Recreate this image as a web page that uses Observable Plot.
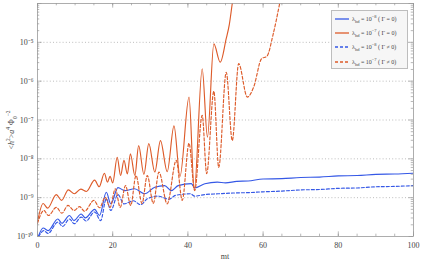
<!DOCTYPE html>
<html><head><meta charset="utf-8">
<script src="https://cdn.jsdelivr.net/npm/d3@7"></script>
<script src="https://cdn.jsdelivr.net/npm/@observablehq/plot@0.6"></script>
<style>
body{margin:0;background:#fff;}
#wrap{position:relative;width:421px;height:263px;overflow:hidden;}
#legend{position:absolute;left:331px;top:10px;width:77px;height:59px;background:#f6f6f6;border:1px solid #bdbdbd;box-sizing:border-box;font-family:"Liberation Serif",serif;font-size:6px;color:#444;}
.row{position:absolute;left:3px;height:10px;display:flex;align-items:center;white-space:nowrap;}
.row svg{margin-right:3px;}
sub,sup{font-size:4.5px;line-height:0;}
.lab{position:absolute;font-family:"Liberation Serif",serif;font-size:8px;color:#444;white-space:nowrap;line-height:1;}
#ylab{left:12px;top:130px;transform:translate(-50%,-50%) rotate(-90deg);}
#xlab{left:225px;top:257px;transform:translate(-50%,-50%);}
.lab sup,.lab sub{font-size:5.5px;}
</style></head>
<body><div id="wrap"><div id="chart"></div><div id="legend"></div>
<div class="lab" id="ylab">&lt;<i>h</i><sup>2</sup>&gt;<i>a</i><sup>4</sup> Φ<sub>0</sub><sup>−2</sup></div>
<div class="lab" id="xlab">mt</div></div>
<script>
// ---- data (t = mt, e = log10 of <h^2> a^4 Phi0^-2) ----
const orangeSolidT = [0,1.5,2.7,5.0,6.4,8.2,9.8,11.5,13.0,15.2,16.4,17.8,18.6,19.3,20.0,21.2,22.1,23.0,23.9,24.7,25.9,26.9,28.3,29.6,31.2,32.7,34.5,36.3,37.9,40.3,41.7,43.8,45.2,46.9,48.6,50.2,51.0,51.8,52.4];
const orangeSolidE = [-9.62,-9.15,-9.27,-8.92,-9.07,-8.80,-8.90,-8.78,-8.84,-8.55,-8.72,-8.37,-8.60,-8.45,-8.62,-7.96,-8.43,-8.04,-8.39,-7.87,-8.43,-7.66,-8.40,-7.61,-8.34,-7.53,-8.33,-7.15,-8.45,-6.41,-8.80,-5.68,-7.44,-5.04,-5.51,-4.90,-4.55,-4.00,-3.60];

const orangeDashT = [0,1.7,2.9,5.0,6.5,8.1,9.7,11.2,12.5,15.0,16.5,18.0,19.3,20.7,22.0,23.4,24.8,26.2,27.8,29.2,30.8,32.3,34.5,36.9,38.5,40.3,41.8,43.8,45.0,46.9,48.2,50.2,51.8,53.5,55.8,57.5,59.6,61.0,62.7,64.4,65.0];
const orangeDashE = [-9.66,-9.33,-9.46,-9.25,-9.40,-9.20,-9.33,-9.23,-9.35,-9.07,-9.26,-8.99,-9.25,-8.77,-9.25,-8.69,-9.20,-8.43,-9.15,-8.43,-9.15,-8.34,-9.16,-8.04,-9.07,-7.60,-8.82,-6.88,-8.38,-6.26,-8.22,-5.77,-7.53,-5.55,-6.41,-6.15,-5.42,-5.36,-4.78,-4.00,-3.70];

const blueSolidT = [0.2,1.5,2.8,5.4,6.5,8.5,9.7,11.6,12.7,15.2,16.5,18.3,19.5,21.4,23.2,25.8,28.5,31.2,33.8,35.6,37.4,40.9,41.8,44.5,47.8,50,53,56,60,65,70,75,80,85,90,95,100];
const blueSolidE = [-10.0,-9.78,-9.85,-9.55,-9.66,-9.46,-9.59,-9.42,-9.52,-9.30,-9.46,-8.86,-9.16,-8.74,-8.82,-8.77,-8.90,-8.73,-8.69,-8.82,-8.69,-8.64,-8.75,-8.64,-8.60,-8.62,-8.58,-8.57,-8.52,-8.51,-8.48,-8.47,-8.44,-8.43,-8.40,-8.39,-8.37];

const blueDashT = [0.3,1.7,2.8,5.4,6.7,8.5,9.8,11.6,12.9,15.2,16.8,18.3,19.5,21.4,23.0,25.5,27.4,29.2,32.0,35.0,36.7,40.7,41.8,44.5,48,52,56,60,65,70,75,80,85,90,95,100];
const blueDashE = [-10.0,-9.85,-9.92,-9.63,-9.74,-9.55,-9.67,-9.50,-9.60,-9.37,-9.59,-9.03,-9.33,-8.92,-9.16,-9.08,-9.18,-9.03,-8.96,-9.04,-8.94,-8.90,-8.96,-8.92,-8.90,-8.88,-8.87,-8.85,-8.83,-8.80,-8.79,-8.76,-8.75,-8.72,-8.71,-8.69];

const seriesNames = ["λ8 Γ=0","λ7 Γ=0","λ8 Γ≠0","λ7 Γ≠0"];
const seriesLegend = [
  ["8","Γ = 0"],["7","Γ = 0"],["8","Γ ≠ 0"],["7","Γ ≠ 0"]
];
const xTicks = [0,20,40,60,80,100];
const yTicks = [1e-10,1e-9,1e-8,1e-7,1e-6,1e-5];
const yExponents = [-10,-9,-8,-7,-6,-5];

// ---- styles ----
const BLUE = "#3558e6", ORANGE = "#dd5b2a";
const styles = [
  {stroke: BLUE, dash: null},
  {stroke: ORANGE, dash: null},
  {stroke: BLUE, dash: "3,2"},
  {stroke: ORANGE, dash: "3,2"}
];

function rows(T, E, name) { return T.map((t, i) => ({t, v: Math.pow(10, E[i]), name})); }
const sets = [
  rows(blueSolidT, blueSolidE, seriesNames[0]),
  rows(orangeSolidT, orangeSolidE, seriesNames[1]),
  rows(blueDashT, blueDashE, seriesNames[2]),
  rows(orangeDashT, orangeDashE, seriesNames[3])
];

const supMap = {"-":"⁻","0":"⁰","1":"¹","2":"²","3":"³","4":"⁴","5":"⁵","6":"⁶","7":"⁷","8":"⁸","9":"⁹"};
const fmt = d => "10" + String(yExponents[yTicks.indexOf(d)]).replace(/[-0-9]/g, c => supMap[c]);

// minor ticks
const minorY = [];
for (const e of [-10,-9,-8,-7,-6,-5]) for (let k = 2; k <= 9; k++) minorY.push(k * Math.pow(10, e));
const majorY = [...yTicks, 1e-4];
const minorX = d3.range(0, 101, 5);

const plot = Plot.plot({
  width: 421, height: 263,
  marginLeft: 37, marginRight: 8, marginTop: 3, marginBottom: 27,
  style: {fontFamily: "'Liberation Serif', serif", fontSize: "8px", color: "#444", background: "white"},
  x: {domain: [0, 100]},
  y: {type: "log", domain: [1e-10, 1e-4]},
  marks: [
    Plot.ruleY(yTicks.slice(1), {stroke: "#b5b5b5", strokeDasharray: "1,2.2", strokeWidth: 0.9}),
    ...sets.map((s, i) => Plot.line(s, {x: "t", y: "v", stroke: styles[i].stroke, strokeWidth: 1.15, strokeDasharray: styles[i].dash, curve: "monotone-x", clip: true})),
    // inner frame ticks
    Plot.ruleY(minorY, {x1: 0, x2: 0.6, stroke: "#888", strokeWidth: 0.6}),
    Plot.ruleY(majorY, {x1: 0, x2: 1.2, stroke: "#888", strokeWidth: 0.6}),
    Plot.ruleY(minorY, {x1: 99.4, x2: 100, stroke: "#888", strokeWidth: 0.6}),
    Plot.ruleY(majorY, {x1: 98.8, x2: 100, stroke: "#888", strokeWidth: 0.6}),
    Plot.ruleX(minorX, {y1: 1e-10, y2: 1e-10 * Math.pow(10, 0.06), stroke: "#888", strokeWidth: 0.6}),
    Plot.ruleX(xTicks, {y1: 1e-10, y2: 1e-10 * Math.pow(10, 0.12), stroke: "#888", strokeWidth: 0.6}),
    Plot.ruleX(minorX, {y1: 1e-4 / Math.pow(10, 0.06), y2: 1e-4, stroke: "#888", strokeWidth: 0.6}),
    Plot.ruleX(xTicks, {y1: 1e-4 / Math.pow(10, 0.12), y2: 1e-4, stroke: "#888", strokeWidth: 0.6}),
    Plot.frame({stroke: "#9a9a9a", strokeWidth: 0.8}),
    Plot.axisY({ticks: yTicks, tickFormat: fmt, tickSize: 0, tickPadding: 4, label: null}),
    Plot.axisX({ticks: xTicks, tickSize: 0, tickPadding: 6, label: null})
  ]
});
document.getElementById("chart").appendChild(plot);

// legend
const leg = document.getElementById("legend");
const rowTops = [3, 17, 31, 46];
seriesLegend.forEach((d, i) => {
  const r = document.createElement("div");
  r.className = "row";
  r.style.top = rowTops[i] + "px";
  const st = styles[i];
  r.innerHTML = `<svg width="14" height="4"><line x1="0" y1="2" x2="14" y2="2" stroke="${st.stroke}" stroke-width="1.3" ${st.dash ? `stroke-dasharray="${st.dash}"` : ""}/></svg>` +
    `<span>λ<sub>hd</sub> = 10<sup>−${d[0]}</sup> ( ${d[1]})</span>`;
  leg.appendChild(r);
});
</script>
</body></html>
